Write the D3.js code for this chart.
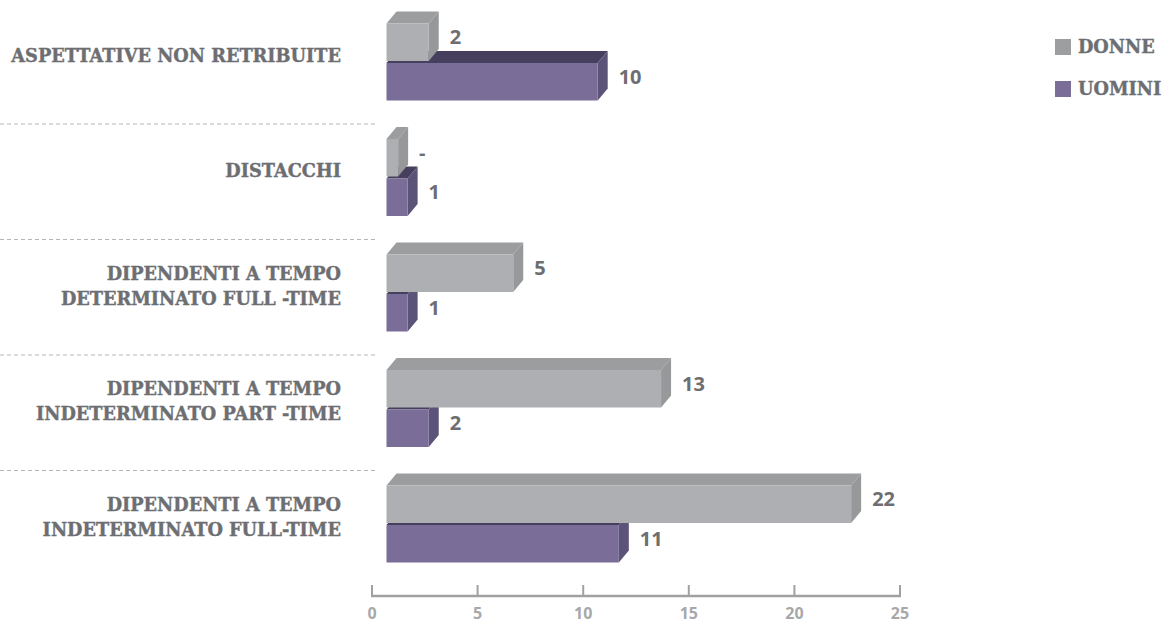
<!DOCTYPE html>
<html lang="it">
<head>
	<meta charset="UTF-8">
	<title>Dipendenti per tipologia contrattuale</title>
	<script src="https://d3js.org/d3.v7.min.js"></script>
	<style>
		html, body {
			margin: 0;
			padding: 0;
			background: #fff;
		}
		#chart svg {
			display: block;
		}
		.rowLabel {
			font-family: 'DejaVu Serif', serif;
			font-weight: bold;
			font-size: 17px;
			fill: #6d6e71;
			stroke: #6d6e71;
			stroke-width: 0.4px;
			text-anchor: end;
		}
		.valLabel {
			font-family: 'Open Sans', sans-serif;
			font-weight: 700;
			font-size: 20px;
			fill: #6d6e71;
		}
		.tickLabel {
			font-family: 'Open Sans', sans-serif;
			font-weight: 700;
			font-size: 16px;
			fill: #a7a8aa;
			text-anchor: middle;
		}
		.sep {
			stroke: #b4b5b7;
			stroke-width: 1;
			stroke-dasharray: 4 3;
		}
	</style>
</head>
<body>
	<div id="chart"></div>

	<script>

	// categories, top to bottom
	var categories = [
		['ASPETTATIVE NON RETRIBUITE'],
		['DISTACCHI'],
		['DIPENDENTI A TEMPO', 'DETERMINATO FULL -TIME'],
		['DIPENDENTI A TEMPO', 'INDETERMINATO PART -TIME'],
		['DIPENDENTI A TEMPO', 'INDETERMINATO FULL-TIME']
	];

	// bar lengths as drawn in the picture (the "-" bar has a stub, the "5" bar is drawn at 6)
	var donne = [2, 0.55, 6, 13, 22];
	var uomini = [10, 1, 1, 2, 11];

	// printed value labels
	var donneLabels = ['2', '-', '5', '13', '22'];
	var uominiLabels = ['10', '1', '1', '2', '11'];

	var xTicks = [0, 5, 10, 15, 20, 25];

	var series = ['DONNE', 'UOMINI'];
	var colors = {
		DONNE:  {front: '#aeafb2', top: '#9c9d9f', side: '#97989a', key: '#9d9ea0'},
		UOMINI: {front: '#7a6e98', top: '#463f5d', side: '#5c5378', key: '#7a6e98'}
	};

	var width = 1166,
	    height = 624;

	var svg = d3.select('#chart')
		.append('svg')
		.attr('width', width)
		.attr('height', height);

	// axis sits on the back plane, bars are shifted right by the 3d offset
	var x = d3.scaleLinear().domain([0, 25]).range([372, 900]);
	var xBar = d3.scaleLinear().domain([0, 25]).range([386.5, 914.5]);

	var y = d3.scaleBand()
		.domain(d3.range(categories.length))
		.range([8.5, 586])
		.padding(0);

	var depthX = 10,
	    depthY = 12,
	    barH = 37.5,
	    barGap = 2;

	// dashed separators between rows
	svg.selectAll('.sep')
		.data(d3.range(1, categories.length))
		.enter().append('line')
		.attr('class', 'sep')
		.attr('x1', 0)
		.attr('x2', 377)
		.attr('y1', function(i) { return y(i); })
		.attr('y2', function(i) { return y(i); });

	// row labels
	var labels = svg.selectAll('.rowLabel')
		.data(categories)
		.enter().append('text')
		.attr('class', 'rowLabel')
		.attr('transform', function(d, i) {
			var cy = y(i) + 47 - (d.length - 1) * 13;
			return 'translate(341,' + cy + ')';
		});

	labels.selectAll('tspan')
		.data(function(d) { return d; })
		.enter().append('tspan')
		.attr('x', 0)
		.attr('y', function(d, j) { return j * 25; })
		.attr('dy', '0.36em')
		.text(function(d) { return d; });

	// fit the label font so the longest line is as wide as in the original (~331px)
	var widest = d3.max(labels.nodes(), function(n) { return n.getBBox().width; });
	var fs = 17 * 331 / widest;
	labels.style('font-size', fs + 'px');

	// build one record per bar
	var bars = [];
	categories.forEach(function(c, i) {
		bars.push({row: i, s: 'UOMINI', v: uomini[i], label: uominiLabels[i], slot: 1});
		bars.push({row: i, s: 'DONNE', v: donne[i], label: donneLabels[i], slot: 0});
	});

	function frontTop(d) {
		return y(d.row) + 15 + d.slot * (barH + barGap);
	}

	var barG = svg.selectAll('.bar')
		.data(bars)
		.enter().append('g')
		.attr('class', 'bar');

	// top face
	barG.append('path')
		.attr('fill', function(d) { return colors[d.s].top; })
		.attr('d', function(d) {
			var x0 = xBar(0), x1 = xBar(d.v), t = frontTop(d);
			return 'M' + x0 + ',' + t + 'L' + (x0 + depthX) + ',' + (t - depthY) +
				'L' + (x1 + depthX) + ',' + (t - depthY) + 'L' + x1 + ',' + t + 'Z';
		});

	// right side face
	barG.append('path')
		.attr('fill', function(d) { return colors[d.s].side; })
		.attr('d', function(d) {
			var x1 = xBar(d.v), t = frontTop(d);
			return 'M' + x1 + ',' + t + 'L' + (x1 + depthX) + ',' + (t - depthY) +
				'L' + (x1 + depthX) + ',' + (t + barH - depthY) + 'L' + x1 + ',' + (t + barH) + 'Z';
		});

	// front face
	barG.append('rect')
		.attr('fill', function(d) { return colors[d.s].front; })
		.attr('x', xBar(0))
		.attr('y', function(d) { return frontTop(d); })
		.attr('width', function(d) { return xBar(d.v) - xBar(0); })
		.attr('height', barH);

	// value labels
	svg.selectAll('.valLabel')
		.data(bars)
		.enter().append('text')
		.attr('class', 'valLabel')
		.attr('x', function(d) { return xBar(d.v) + depthX + 11; })
		.attr('y', function(d) { return frontTop(d) + barH / 2 - 5; })
		.attr('dy', '0.36em')
		.text(function(d) { return d.label; });

	// x axis
	var axisG = svg.append('g')
		.attr('transform', 'translate(0,596)');

	axisG.append('line')
		.attr('x1', x(0) - 1)
		.attr('x2', x(25) + 1)
		.attr('stroke', '#a0a1a3')
		.attr('stroke-width', 2.5);

	axisG.selectAll('.tick')
		.data(xTicks)
		.enter().append('line')
		.attr('x1', function(d) { return x(d); })
		.attr('x2', function(d) { return x(d); })
		.attr('y1', -11)
		.attr('y2', 0)
		.attr('stroke', '#a0a1a3')
		.attr('stroke-width', 2);

	axisG.selectAll('.tickLabel')
		.data(xTicks)
		.enter().append('text')
		.attr('class', 'tickLabel')
		.attr('x', function(d) { return x(d); })
		.attr('y', 23)
		.text(function(d) { return d; });

	// legend
	var legend = svg.selectAll('.legend')
		.data(series)
		.enter().append('g')
		.attr('class', 'legend')
		.attr('transform', function(d, i) { return 'translate(1055,' + (47 + i * 42) + ')'; });

	legend.append('rect')
		.attr('x', 0)
		.attr('y', -8)
		.attr('width', 16)
		.attr('height', 16)
		.attr('fill', function(d) { return colors[d].key; });

	legend.append('text')
		.attr('class', 'rowLabel')
		.style('text-anchor', 'start')
		.style('font-size', fs + 'px')
		.attr('x', 23)
		.attr('dy', '0.36em')
		.text(function(d) { return d; });

	</script>
</body>
</html>
